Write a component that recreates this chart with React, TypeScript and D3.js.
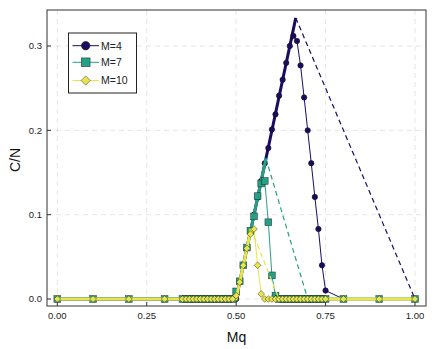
import React from 'react';
import * as d3 from 'd3';

// Mq grid shared by every series
const mq = [
  0, 0.1, 0.2, 0.3,
  0.35, 0.36, 0.37, 0.38, 0.39, 0.4, 0.41, 0.42, 0.43, 0.44, 0.45, 0.46, 0.47, 0.48, 0.49, 0.5,
  0.51, 0.52, 0.53, 0.54, 0.55, 0.56, 0.57, 0.58, 0.59, 0.6, 0.61, 0.62, 0.63, 0.64, 0.65, 0.66,
  0.67, 0.68, 0.69, 0.7, 0.71, 0.72, 0.73, 0.74, 0.75,
  0.8, 0.9, 1.0,
];

const cnM4 = [
  0, 0, 0, 0,
  0, 0, 0, 0, 0, 0, 0, 0, 0, 0, 0, 0, 0, 0, 0, 0,
  0.02, 0.04, 0.06, 0.08, 0.1, 0.12, 0.14, 0.161, 0.179, 0.201, 0.219, 0.241, 0.26, 0.28, 0.3, 0.312,
  0.306, 0.277, 0.239, 0.2, 0.161, 0.121, 0.083, 0.04, 0.01,
  0, 0, 0,
];

const cnM7 = [
  0, 0, 0, 0,
  0, 0, 0, 0, 0, 0, 0, 0, 0, 0, 0, 0, 0, 0, 0, 0.009,
  0.021, 0.04, 0.061, 0.081, 0.098, 0.122, 0.137, 0.14, 0.091, 0.028, 0.004, 0, 0, 0, 0, 0,
  0, 0, 0, 0, 0, 0, 0, 0, 0,
  0, 0, 0,
];

const cnM10 = [
  0, 0, 0, 0,
  0, 0, 0, 0, 0, 0, 0, 0, 0, 0, 0, 0, 0, 0, 0, 0.004,
  0.02, 0.04, 0.06, 0.077, 0.083, 0.04, 0.006, 0, 0, 0, 0, 0, 0, 0, 0, 0,
  0, 0, 0, 0, 0, 0, 0, 0, 0,
  0, 0, 0,
];

const labels = ['M=4', 'M=7', 'M=10'];
const colors = ['#1c0b63', '#26a085', '#e8e44a'];
const shapes = ['circle', 'square', 'diamond'];

// theory curve: 0 up to onset, linear rise to peak, dashed fall to end, 0 after
const onset = 0.5;
const peakMq = [0.6667, 0.5833, 0.5417];
const peakCn = [0.3333, 0.1667, 0.0833];
const endMq = [1.0, 0.7, 0.62];

const xTicks = [0, 0.25, 0.5, 0.75, 1.0];
const yTicks = [0, 0.1, 0.2, 0.3];

const W = 436, H = 349;
const frame = { left: 47, right: 426, top: 10, bottom: 306 };
const font = '"Liberation Sans", Arial, sans-serif';

function Marker({ shape, cx, cy, s, fill }) {
  const stroke = '#111';
  if (shape === 'circle')
    return <circle cx={cx} cy={cy} r={s} fill={fill} stroke={stroke} strokeWidth={0.6} />;
  if (shape === 'square')
    return <rect x={cx - s} y={cy - s} width={2 * s} height={2 * s} fill={fill} stroke={stroke} strokeWidth={0.6} strokeOpacity={0.7} />;
  const d = `M${cx},${cy - s * 1.25}L${cx + s * 1.25},${cy}L${cx},${cy + s * 1.25}L${cx - s * 1.25},${cy}Z`;
  return <path d={d} fill={fill} stroke={stroke} strokeWidth={0.6} strokeOpacity={0.7} />;
}

export default function App() {
  const x = d3.scaleLinear().domain([0, 1]).range([57.3, 415]);
  const y = d3.scaleLinear().domain([0, 0.3]).range([299, 46]);
  const line = d3.line<number[]>().x((d) => x(d[0])).y((d) => y(d[1]));

  const series = [cnM4, cnM7, cnM10];
  const markerSize = [2.7, 3.4, 2.7];
  const legendSize = [4.2, 4.4, 3.7];

  return (
    <svg width={W} height={H} style={{ position: 'absolute', left: 0, top: 0, background: '#fff' }}>
      <rect x={0} y={0} width={W} height={H} fill="#fff" />
      {/* grid */}
      {xTicks.map((t) => (
        <line key={'gx' + t} x1={x(t)} x2={x(t)} y1={frame.top} y2={frame.bottom}
          stroke="#000" strokeOpacity={0.1} strokeWidth={1} strokeDasharray="5,4" />
      ))}
      {yTicks.map((t) => (
        <line key={'gy' + t} x1={frame.left} x2={frame.right} y1={y(t)} y2={y(t)}
          stroke="#000" strokeOpacity={0.1} strokeWidth={1} strokeDasharray="5,4" />
      ))}

      {series.map((vals, i) => {
        const rise = [[0, 0], [onset, 0], [peakMq[i], peakCn[i]]];
        const tail = [[endMq[i], 0], [1, 0]];
        const fall = [[peakMq[i], peakCn[i]], [endMq[i], 0]];
        const pts = mq.map((m, k) => [m, vals[k]]);
        return (
          <g key={labels[i]}>
            <path d={line(rise)} fill="none" stroke={colors[i]} strokeWidth={3} />
            <path d={line(tail)} fill="none" stroke={colors[i]} strokeWidth={3} />
            <path d={line(fall)} fill="none" stroke={colors[i]} strokeWidth={1.2} strokeDasharray="5,3.5" />
            <path d={line(pts)} fill="none" stroke={colors[i]} strokeWidth={1} />
            {pts.map((p, k) => (
              <Marker key={k} shape={shapes[i]} cx={x(p[0])} cy={y(p[1])} s={markerSize[i]} fill={colors[i]} />
            ))}
          </g>
        );
      })}

      {/* frame */}
      <rect x={frame.left} y={frame.top} width={frame.right - frame.left} height={frame.bottom - frame.top}
        fill="none" stroke="#333" strokeWidth={1} />

      {/* ticks */}
      {xTicks.map((t) => (
        <g key={'tx' + t}>
          <line x1={x(t)} x2={x(t)} y1={frame.bottom} y2={frame.bottom - 4} stroke="#333" />
          <text x={x(t)} y={319} textAnchor="middle" fontFamily={font} fontSize={9.5} fill="#222">
            {d3.format('.2f')(t)}
          </text>
        </g>
      ))}
      {yTicks.map((t) => (
        <g key={'ty' + t}>
          <line x1={frame.left} x2={frame.left + 4} y1={y(t)} y2={y(t)} stroke="#333" />
          <text x={42} y={y(t) + 3.4} textAnchor="end" fontFamily={font} fontSize={9.5} fill="#222">
            {d3.format('.1f')(t)}
          </text>
        </g>
      ))}

      {/* axis labels */}
      <text x={236.5} y={342} textAnchor="middle" fontFamily={font} fontSize={14} fill="#111">Mq</text>
      <text transform="translate(20,160) rotate(-90)" textAnchor="middle" fontFamily={font} fontSize={14} fill="#111">C/N</text>

      {/* legend */}
      <rect x={68.5} y={33} width={68} height={60} fill="#fff" stroke="#222" strokeWidth={1} />
      {labels.map((lab, i) => {
        const ly = [45.7, 62.3, 80.5][i];
        return (
          <g key={'lg' + lab}>
            <line x1={72.5} x2={99} y1={ly} y2={ly} stroke={colors[i]} strokeWidth={1} />
            <Marker shape={shapes[i]} cx={85.7} cy={ly} s={legendSize[i]} fill={colors[i]} />
            <text x={101} y={ly + 3.8} fontFamily={font} fontSize={10.5} fill="#222">{lab}</text>
          </g>
        );
      })}
    </svg>
  );
}
